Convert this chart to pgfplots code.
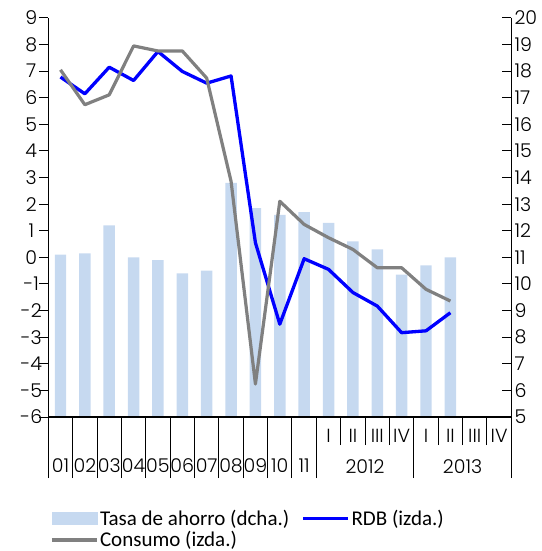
\documentclass[border=0pt]{standalone}
\usepackage{pgfplots}
\pgfplotsset{compat=1.18}
\usepackage{fontspec}
\setmainfont{Carlito}
\newfontfamily\tickfont{Poppins Light}
\definecolor{barcol}{RGB}{198,217,240}
\definecolor{linegray}{RGB}{128,128,128}
\begin{document}
\begin{tikzpicture}
\pgfplotsset{
  base/.style={scale only axis, width=463pt, height=399pt, at={(0,0)}, anchor=south west,
    xmin=-0.5, xmax=18.5,
    /pgf/number format/assume math mode=true,
    ticklabel style={font=\tickfont\fontsize{19}{19}\selectfont},
    axis line style={line width=1.2pt, black},
    every tick/.style={line width=1pt, black},
    every minor tick/.style={line width=1pt, black}},
}
% bars on right axis
\begin{axis}[base, ymin=5, ymax=20, axis x line=none, axis y line*=right,
  ytick={5,...,20}, tick align=inside, major tick length=9pt,
  yticklabel style={anchor=west, inner xsep=0pt, xshift=3pt}]
\addplot[ybar, bar width=0.47, fill=barcol, draw=none] coordinates {
(0,11.1) (1,11.15) (2,12.2) (3,11.0) (4,10.9) (5,10.4) (6,10.5) (7,13.8) (8,12.85)
(9,12.6) (10,12.7) (11,12.3) (12,11.6) (13,11.3) (14,10.35) (15,10.7) (16,11.0)};
\end{axis}
% x axis with category separators
\begin{axis}[base, ymin=-6, ymax=9, axis y line=none, axis x line*=bottom,
  xtick={-0.5,0.5,...,10.5,14.5,18.5}, xticklabels={},
  minor xtick={11.5,12.5,13.5,15.5,16.5,17.5},
  tick align=outside, major tick length=61pt, minor tick length=28pt]
\addplot[draw=none] coordinates {(0,0)};
\end{axis}
% lines on left axis
\begin{axis}[base, ymin=-6, ymax=9, axis x line=none, axis y line*=left, clip=false,
  ytick={-6,...,9}, tick align=outside, major tick length=9pt,
  yticklabel style={anchor=center, xshift=-8pt},
  legend columns=2, legend cell align=left,
  legend image code/.code={\draw[#1] (0pt,0pt) -- (45pt,0pt);},
  legend style={draw=none, fill=none, inner sep=0pt, row sep=5pt,
    at={(axis description cs:0.004,-0.232)}, anchor=north west,
    font=\fontsize{21}{21}\selectfont,
    nodes={inner xsep=1.5pt, inner ysep=0pt},
    /tikz/every even column/.append style={column sep=11pt}}]
\addlegendimage{legend image code/.code={\fill[barcol] (0pt,-6pt) rectangle (45pt,6pt);}}
\addlegendentry{Tasa de ahorro (dcha.)}
\addplot[blue, line width=3.3pt, line join=round] coordinates {
(0,6.78) (1,6.15) (2,7.15) (3,6.65) (4,7.74) (5,6.99) (6,6.55) (7,6.82) (8,0.55)
(9,-2.51) (10,-0.05) (11,-0.45) (12,-1.32) (13,-1.83) (14,-2.83) (15,-2.76) (16,-2.08)};
\addlegendentry{RDB (izda.)}
\addplot[linegray, line width=3.2pt, line join=round] coordinates {
(0,7.05) (1,5.74) (2,6.11) (3,7.95) (4,7.76) (5,7.76) (6,6.74) (7,2.86) (8,-4.76)
(9,2.11) (10,1.24) (11,0.74) (12,0.3) (13,-0.39) (14,-0.39) (15,-1.2) (16,-1.64)};
\addlegendentry{Consumo (izda.)}
\tikzset{xl/.style={font=\tickfont\fontsize{19}{19}\selectfont, anchor=center, inner sep=0pt}}
\node[xl, yshift=-49pt] at (axis cs:0,-6) {01};
\node[xl, yshift=-49pt] at (axis cs:1,-6) {02};
\node[xl, yshift=-49pt] at (axis cs:2,-6) {03};
\node[xl, yshift=-49pt] at (axis cs:3,-6) {04};
\node[xl, yshift=-49pt] at (axis cs:4,-6) {05};
\node[xl, yshift=-49pt] at (axis cs:5,-6) {06};
\node[xl, yshift=-49pt] at (axis cs:6,-6) {07};
\node[xl, yshift=-49pt] at (axis cs:7,-6) {08};
\node[xl, yshift=-49pt] at (axis cs:8,-6) {09};
\node[xl, yshift=-49pt] at (axis cs:9,-6) {10};
\node[xl, yshift=-49pt] at (axis cs:10,-6) {11};
\node[xl, yshift=-19pt] at (axis cs:11,-6) {I};
\node[xl, yshift=-19pt] at (axis cs:12,-6) {II};
\node[xl, yshift=-19pt] at (axis cs:13,-6) {III};
\node[xl, yshift=-19pt] at (axis cs:14,-6) {IV};
\node[xl, yshift=-19pt] at (axis cs:15,-6) {I};
\node[xl, yshift=-19pt] at (axis cs:16,-6) {II};
\node[xl, yshift=-19pt] at (axis cs:17,-6) {III};
\node[xl, yshift=-19pt] at (axis cs:18,-6) {IV};
\node[xl, yshift=-50pt] at (axis cs:12.5,-6) {2012};
\node[xl, yshift=-50pt] at (axis cs:16.5,-6) {2013};
\end{axis}
\pgfresetboundingbox
\path (-48.3pt,-134pt) rectangle (492.7pt,417pt);
\end{tikzpicture}
\end{document}
